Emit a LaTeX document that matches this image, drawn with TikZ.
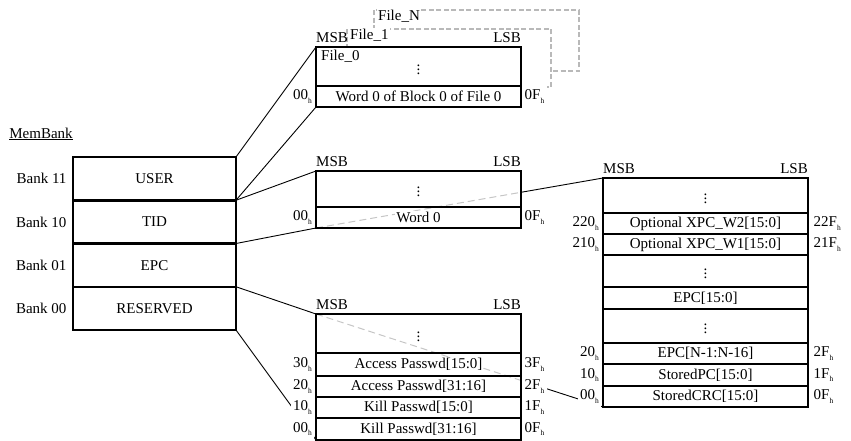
\documentclass[tikz,border=0pt]{standalone}
\usepackage{fontspec}
\setmainfont{Liberation Serif}
\usetikzlibrary{positioning}
\pgfdeclarelayer{back}
\pgfsetlayers{back,main}
\newcommand{\hx}[1]{#1\raisebox{-0.55ex}{\fontsize{7.5}{8}\selectfont h}}
\newcommand{\wb}[1]{{\setlength{\fboxsep}{1pt}\colorbox{white}{#1}}}

\begin{document}
\begin{tikzpicture}[x=1pt, y=-1pt, font=\fontsize{15}{17}\selectfont,
    row/.style={draw, line width=2.5pt, minimum width=205pt, inner sep=0.5pt, outer sep=0pt},
    bank/.style={row, minimum width=163pt, minimum height=43.25pt},
    addr/.style={fill=white, inner xsep=2.5pt, inner ysep=4pt},
    filerect/.style={draw=gray!55, fill=white, line width=1.4pt, dash pattern=on 5pt off 2.5pt},
    seethru/.style={draw=gray!45, line width=1pt, dash pattern=on 7pt off 4pt},
    link/.style={line width=0.9pt}]
    \useasboundingbox (0,0) rectangle (851,440);
    % MemBank column
        \node (mb) at (41,134) {\underline{MemBank}};
        \node[bank, anchor=north west] (user) at (73,157) {USER};
        \node[bank, below=0pt of user] (tid) {TID};
        \node[bank, below=0pt of tid] (epc) {EPC};
        \node[bank, below=0pt of epc] (rsv) {RESERVED};
        \node[anchor=east] (b11) at ([xshift=-3pt]user.west) {Bank 11};
        \node[anchor=east] (b10) at ([xshift=-3pt]tid.west) {Bank 10};
        \node[anchor=east] (b01) at ([xshift=-3pt]epc.west) {Bank 01};
        \node[anchor=east] (b00) at ([xshift=-3pt]rsv.west) {Bank 00};
    % User memory, files stacked behind
        \node[row, fill=white, minimum height=39pt, anchor=north west] (f0top) at (316,47) {$\vdots$};
        \node[row, fill=white, minimum height=21pt, below=0pt of f0top] (f0w0) {Word 0 of Block 0 of File 0};
        \node[anchor=north west, inner sep=1pt] (f0) at ([xshift=4pt,yshift=-2pt]f0top.north west) {File\_0};
        \node[fill=white, inner sep=1pt, anchor=west] (f1) at (349,35) {File\_1};
        \node[fill=white, inner sep=1pt, anchor=west] (fn) at (377,16) {File\_N};
        \begin{pgfonlayer}{back}
            \draw[filerect] (374,10) rectangle (579,71);
            \draw[filerect] (347,29) rectangle (551,87);
        \end{pgfonlayer}
        \node[anchor=south west, inner sep=0pt, yshift=4pt] (fmsb) at (f0top.north west) {MSB};
        \node[anchor=south east, inner sep=0pt, yshift=4pt] (flsb) at (f0top.north east) {LSB};
        \node[addr, anchor=east] (fa0) at ([xshift=-1.5pt]f0w0.west) {\hx{00}};
        \node[addr, anchor=west] (fa1) at ([xshift=1pt]f0w0.east) {\hx{0F}};
    % TID memory
        \node[row, minimum height=36pt, anchor=north west] (t1) at (316,171) {$\vdots$};
        \node[row, minimum height=21pt, below=0pt of t1] (t0) {\wb{Word 0}};
        \node[anchor=south west, inner sep=0pt, yshift=4pt] (tmsb) at (t1.north west) {MSB};
        \node[anchor=south east, inner sep=0pt, yshift=4pt] (tlsb) at (t1.north east) {LSB};
        \node[addr, anchor=east] (ta0) at ([xshift=-1.5pt]t0.west) {\hx{00}};
        \node[addr, anchor=west] (ta1) at ([xshift=1pt]t0.east) {\hx{0F}};
    % Reserved memory
        \node[row, minimum height=39pt, anchor=north west] (r4) at (316,314) {$\vdots$};
        \node[row, minimum height=23pt, below=0pt of r4] (r3) {\wb{Access Passwd[15:0]}};
        \node[row, minimum height=21pt, below=0pt of r3] (r2) {Access Passwd[31:16]};
        \node[row, minimum height=21pt, below=0pt of r2] (r1) {Kill Passwd[15:0]};
        \node[row, minimum height=22pt, below=0pt of r1] (r0) {Kill Passwd[31:16]};
        \node[anchor=south west, inner sep=0pt, yshift=4pt] (rmsb) at (r4.north west) {MSB};
        \node[anchor=south east, inner sep=0pt, yshift=4pt] (rlsb) at (r4.north east) {LSB};
        \node[addr, anchor=east] (ra3) at ([xshift=-1.5pt]r3.west) {\hx{30}};
        \node[addr, anchor=east] (ra2) at ([xshift=-1.5pt]r2.west) {\hx{20}};
        \node[addr, anchor=east] (ra1) at ([xshift=-1.5pt]r1.west) {\hx{10}};
        \node[addr, anchor=east] (ra0) at ([xshift=-1.5pt]r0.west) {\hx{00}};
        \node[addr, anchor=west] (rb3) at ([xshift=1pt]r3.east) {\hx{3F}};
        \node[addr, anchor=west] (rb2) at ([xshift=1pt]r2.east) {\hx{2F}};
        \node[addr, anchor=west] (rb1) at ([xshift=1pt]r1.east) {\hx{1F}};
        \node[addr, anchor=west] (rb0) at ([xshift=1pt]r0.east) {\hx{0F}};
    % EPC memory
        \node[row, minimum height=35pt, anchor=north west] (e8) at (603,178) {$\vdots$};
        \node[row, minimum height=21pt, below=0pt of e8] (e7) {Optional XPC\_W2[15:0]};
        \node[row, minimum height=21pt, below=0pt of e7] (e6) {Optional XPC\_W1[15:0]};
        \node[row, minimum height=32pt, below=0pt of e6] (e5) {$\vdots$};
        \node[row, minimum height=22pt, below=0pt of e5] (e4) {EPC[15:0]};
        \node[row, minimum height=34pt, below=0pt of e4] (e3) {$\vdots$};
        \node[row, minimum height=21pt, below=0pt of e3] (e2) {EPC[N-1:N-16]};
        \node[row, minimum height=22pt, below=0pt of e2] (e1) {StoredPC[15:0]};
        \node[row, minimum height=21pt, below=0pt of e1] (e0) {StoredCRC[15:0]};
        \node[anchor=south west, inner sep=0pt, yshift=4pt] (emsb) at (e8.north west) {MSB};
        \node[anchor=south east, inner sep=0pt, yshift=4pt] (elsb) at (e8.north east) {LSB};
        \node[addr, anchor=east] (ea7) at ([xshift=-1.5pt]e7.west) {\hx{220}};
        \node[addr, anchor=east] (ea6) at ([xshift=-1.5pt]e6.west) {\hx{210}};
        \node[addr, anchor=east] (ea2) at ([xshift=-1.5pt]e2.west) {\hx{20}};
        \node[addr, anchor=east] (ea1) at ([xshift=-1.5pt]e1.west) {\hx{10}};
        \node[addr, anchor=east] (ea0) at ([xshift=-1.5pt]e0.west) {\hx{00}};
        \node[addr, anchor=west] (eb7) at ([xshift=3pt]e7.east) {\hx{22F}};
        \node[addr, anchor=west] (eb6) at ([xshift=3pt]e6.east) {\hx{21F}};
        \node[addr, anchor=west] (eb2) at ([xshift=3pt]e2.east) {\hx{2F}};
        \node[addr, anchor=west] (eb1) at ([xshift=3pt]e1.east) {\hx{1F}};
        \node[addr, anchor=west] (eb0) at ([xshift=3pt]e0.east) {\hx{0F}};
    % Below are the lines from the banks to their memories.
        \coordinate (p1) at (intersection of t0.south west--e8.north west and t1.north east--t0.south east);
        \coordinate (p2) at (intersection of r4.north west--e0.south west and r4.north east--r0.south east);
        \begin{pgfonlayer}{back}
            \draw[link] (user.north east) -- (f0top.north west);
            \draw[link] (user.south east) -- (f0w0.south west);
            \draw[link] (tid.north east) -- (t1.north west);
            \draw[link] (tid.south east) -- (t0.south west);
            \draw[link] (epc.south east) -- (r4.north west);
            \draw[link] (rsv.south east) -- (r0.south west);
            \draw[seethru] (t0.south west) -- (p1);
            \draw[link] (p1) -- (e8.north west);
            \draw[seethru] (r4.north west) -- (p2);
            \draw[link] (p2) -- (e0.south west);
        \end{pgfonlayer}
\end{tikzpicture}
\end{document}
